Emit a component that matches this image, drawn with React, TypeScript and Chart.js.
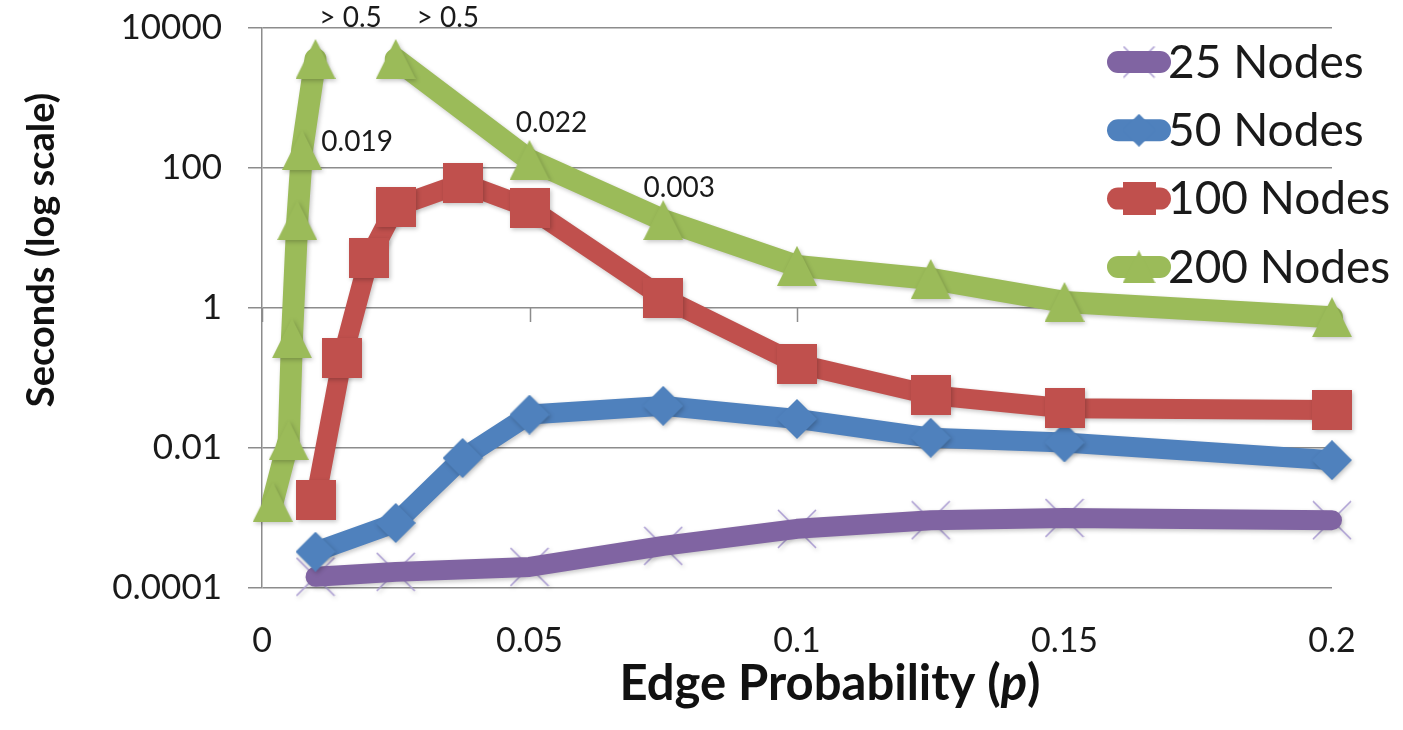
import { useEffect, useRef } from 'react';
import { Chart, registerables } from 'chart.js';

Chart.register(...registerables);

// ---------- data ----------
const X_TICKS = [0, 0.05, 0.1, 0.15, 0.2];
const X_TICK_LABELS = ['0', '0.05', '0.1', '0.15', '0.2'];
const Y_TICKS = [0.0001, 0.01, 1, 100, 10000];
const Y_TICK_LABELS = ['0.0001', '0.01', '1', '100', '10000'];

const SERIES_NAMES = ['25 Nodes', '50 Nodes', '100 Nodes', '200 Nodes'];

const P_25 = [0.01, 0.025, 0.05, 0.075, 0.1, 0.125, 0.15, 0.2];
const SEC_25 = [0.000145, 0.00017, 0.0002, 0.0004, 0.0007, 0.00093, 0.001, 0.00093];

const P_50 = [0.01, 0.025, 0.0375, 0.05, 0.075, 0.1, 0.125, 0.15, 0.2];
const SEC_50 = [0.00033, 0.00085, 0.0072, 0.03, 0.04, 0.026, 0.014, 0.012, 0.0067];

const P_100 = [0.01, 0.015, 0.02, 0.025, 0.0375, 0.05, 0.075, 0.1, 0.125, 0.15, 0.2];
const SEC_100 = [0.0018, 0.19, 5.2, 28, 61, 27, 1.4, 0.16, 0.057, 0.037, 0.035];

const P_200 = [0.002, 0.005, 0.0056, 0.0066, 0.0075, 0.01, 0.015, 0.02, 0.025, 0.05, 0.075, 0.1, 0.125, 0.15, 0.2];
const SEC_200 = [0.0017, 0.013, 0.37, 18, 181, 3600, null, null, 3600, 130, 18, 4.0, 2.6, 1.22, 0.74];

// data labels attached to points of the 200-node series
const LABEL_TEXT = ['> 0.5', '> 0.5', '0.019', '0.022', '0.003'];
const LABEL_POINT = [5, 8, 4, 9, 10];

// ---------- styles ----------
const PURPLE = '#8064A2';
const PURPLE_LIGHT = '#ab9dd2';
const BLUE = '#4F81BD';
const RED = '#C0504D';
const GREEN = '#9BBB59';
const GRID = '#8c8c8c';
const TEXT = '#1a1a1a';
const FONT = "Lato, 'Open Sans', sans-serif";
const LABEL_OFFSETS: [number, number][] = [[35, -41], [52, -41], [55, -8], [22, -37], [16, -32]];

function makeMarker(kind: string, color: string, size: number): HTMLCanvasElement {
  const c = document.createElement('canvas');
  c.width = size;
  c.height = size;
  const ctx = c.getContext('2d')!;
  ctx.fillStyle = color;
  ctx.strokeStyle = color;
  const s = size;
  ctx.beginPath();
  if (kind === 'triangle') {
    ctx.moveTo(s / 2, 0);
    ctx.lineTo(s, s);
    ctx.lineTo(0, s);
    ctx.closePath();
    ctx.fill();
  } else if (kind === 'square') {
    ctx.rect(0, 0, s, s);
    ctx.fill();
  } else if (kind === 'diamond') {
    ctx.moveTo(s / 2, 0);
    ctx.lineTo(s, s / 2);
    ctx.lineTo(s / 2, s);
    ctx.lineTo(0, s / 2);
    ctx.closePath();
    ctx.fill();
  } else {
    ctx.lineWidth = 1.6;
    ctx.moveTo(1, 1);
    ctx.lineTo(s - 1, s - 1);
    ctx.moveTo(s - 1, 1);
    ctx.lineTo(1, s - 1);
    ctx.stroke();
  }
  return c;
}

const toPoints = (xs: number[], ys: (number | null)[]) => xs.map((x, i) => ({ x, y: ys[i] }));

export default function App() {
  const ref = useRef<HTMLCanvasElement>(null);

  useEffect(() => {
    document.body.style.margin = '0';
    const canvas = ref.current!;
    const mk = {
      x: makeMarker('x', PURPLE_LIGHT, 40),
      diamond: makeMarker('diamond', BLUE, 40),
      square: makeMarker('square', RED, 40),
      triangle: makeMarker('triangle', GREEN, 40),
    };
    const mkLegend = {
      x: makeMarker('x', PURPLE_LIGHT, 33),
      diamond: makeMarker('diamond', BLUE, 33),
      square: makeMarker('square', RED, 33),
      triangle: makeMarker('triangle', GREEN, 33),
    };
    const legendItems = [
      { name: SERIES_NAMES[0], color: PURPLE, marker: mkLegend.x, under: true },
      { name: SERIES_NAMES[1], color: BLUE, marker: mkLegend.diamond, under: false },
      { name: SERIES_NAMES[2], color: RED, marker: mkLegend.square, under: false },
      { name: SERIES_NAMES[3], color: GREEN, marker: mkLegend.triangle, under: false },
    ];

    const shadowPlugin = {
      id: 'shadow',
      beforeDatasetDraw(chart: any) {
        const ctx = chart.ctx;
        ctx.save();
        ctx.shadowColor = 'rgba(0,0,0,0.22)';
        ctx.shadowBlur = 4;
        ctx.shadowOffsetX = 1.5;
        ctx.shadowOffsetY = 2;
      },
      afterDatasetDraw(chart: any) {
        chart.ctx.restore();
      },
    };

    const axisPlugin = {
      id: 'xAxisAtOne',
      beforeDatasetsDraw(chart: any) {
        const { ctx, scales } = chart;
        const y1 = scales.y.getPixelForValue(1);
        ctx.save();
        ctx.strokeStyle = GRID;
        ctx.lineWidth = 1.5;
        ctx.beginPath();
        X_TICKS.forEach((v) => {
          const x = Math.round(scales.x.getPixelForValue(v)) + 0.5;
          ctx.moveTo(x, y1);
          ctx.lineTo(x, y1 + 14);
        });
        ctx.stroke();
        ctx.restore();
      },
    };

    const labelsPlugin = {
      id: 'dataLabels',
      afterDatasetsDraw(chart: any) {
        const { ctx } = chart;
        const meta = chart.getDatasetMeta(4);
        ctx.save();
        ctx.font = `28px ${FONT}`;
        ctx.fillStyle = TEXT;
        ctx.textAlign = 'center';
        ctx.textBaseline = 'middle';
        LABEL_TEXT.forEach((t, i) => {
          const el = meta.data[LABEL_POINT[i]];
          ctx.fillText(t, el.x + LABEL_OFFSETS[i][0], el.y + LABEL_OFFSETS[i][1]);
        });
        ctx.restore();
      },
    };

    const decorPlugin = {
      id: 'decor',
      afterDraw(chart: any) {
        const { ctx, chartArea } = chart;
        ctx.save();
        // legend
        legendItems.forEach((it, i) => {
          const cy = 62 + i * 68.3;
          const x0 = 1118;
          const x1 = 1160;
          const cx = 1139;
          if (it.under) {
            ctx.drawImage(it.marker, cx - it.marker.width / 2, cy - it.marker.height / 2);
          }
          ctx.strokeStyle = it.color;
          ctx.lineWidth = 22;
          ctx.lineCap = 'round';
          ctx.beginPath();
          ctx.moveTo(x0, cy);
          ctx.lineTo(x1, cy);
          ctx.stroke();
          if (!it.under) {
            ctx.drawImage(it.marker, cx - it.marker.width / 2, cy - it.marker.height / 2);
          }
          ctx.fillStyle = TEXT;
          ctx.font = `46px ${FONT}`;
          ctx.textAlign = 'left';
          ctx.textBaseline = 'middle';
          ctx.fillText(it.name, 1168, cy + 1);
        });
        // y-axis title
        ctx.fillStyle = '#111';
        ctx.save();
        ctx.translate(chartArea.left - 220, chartArea.top + 222);
        ctx.rotate(-Math.PI / 2);
        ctx.font = `bold 38px ${FONT}`;
        ctx.textAlign = 'center';
        ctx.textBaseline = 'middle';
        ctx.fillText('Seconds (log scale)', 0, 0);
        ctx.restore();
        // x-axis title with italic p
        const parts = [
          { t: 'Edge Probability (', f: `bold 49px ${FONT}` },
          { t: 'p', f: `italic bold 49px ${FONT}` },
          { t: ')', f: `bold 49px ${FONT}` },
        ];
        let total = 0;
        parts.forEach((p) => {
          ctx.font = p.f;
          total += ctx.measureText(p.t).width;
        });
        let x = chartArea.left + 568 - total / 2;
        const baseY = chartArea.bottom + 112;
        ctx.textAlign = 'left';
        ctx.textBaseline = 'alphabetic';
        parts.forEach((p) => {
          ctx.font = p.f;
          ctx.fillText(p.t, x, baseY);
          x += ctx.measureText(p.t).width;
        });
        ctx.restore();
      },
    };

    const chart = new Chart(canvas, {
      type: 'line',
      data: {
        datasets: [
          {
            label: SERIES_NAMES[0] + ' markers',
            data: toPoints(P_25, SEC_25),
            showLine: false,
            pointStyle: mk.x,
            pointRadius: 20,
            order: 5,
            clip: false,
          },
          {
            label: SERIES_NAMES[0],
            data: toPoints(P_25, SEC_25),
            borderColor: PURPLE,
            borderWidth: 20,
            borderJoinStyle: 'round',
            borderCapStyle: 'round',
            pointRadius: 0,
            order: 4,
            clip: false,
          },
          {
            label: SERIES_NAMES[1],
            data: toPoints(P_50, SEC_50),
            borderColor: BLUE,
            borderWidth: 20,
            borderJoinStyle: 'round',
            borderCapStyle: 'round',
            pointStyle: mk.diamond,
            pointRadius: 20,
            order: 3,
            clip: false,
          },
          {
            label: SERIES_NAMES[2],
            data: toPoints(P_100, SEC_100),
            borderColor: RED,
            borderWidth: 20,
            borderJoinStyle: 'round',
            borderCapStyle: 'round',
            pointStyle: mk.square,
            pointRadius: 20,
            order: 2,
            clip: false,
          },
          {
            label: SERIES_NAMES[3],
            data: toPoints(P_200, SEC_200),
            borderColor: GREEN,
            borderWidth: 22,
            borderJoinStyle: 'round',
            borderCapStyle: 'round',
            pointStyle: mk.triangle,
            pointRadius: 20,
            spanGaps: false,
            order: 1,
            clip: false,
          },
        ] as any,
      },
      options: {
        responsive: false,
        animation: false,
        events: [],
        layout: { autoPadding: false, padding: { left: 0, top: 28, right: 71, bottom: 0 } },
        plugins: {
          legend: { display: false },
          tooltip: { enabled: false },
        },
        scales: {
          x: {
            type: 'linear',
            min: 0,
            max: 0.2,
            grid: { display: false, drawTicks: false },
            border: { display: false },
            afterBuildTicks: (s: any) => {
              s.ticks = X_TICKS.map((v) => ({ value: v }));
            },
            afterFit: (s: any) => {
              s.height = 142;
              s.paddingLeft = 0;
              s.paddingRight = 0;
            },
            ticks: {
              autoSkip: false,
              maxRotation: 0,
              padding: 33,
              color: TEXT,
              font: { family: FONT, size: 34 },
              callback: (_v: any, i: number) => X_TICK_LABELS[i],
            },
          },
          y: {
            type: 'logarithmic',
            min: 0.0001,
            max: 10000,
            grid: { color: GRID, lineWidth: 1.5, drawTicks: true, tickLength: 14 },
            border: { display: true, color: GRID, width: 1.5 },
            afterBuildTicks: (s: any) => {
              s.ticks = Y_TICKS.map((v) => ({ value: v }));
            },
            afterFit: (s: any) => {
              s.width = 262;
              s.paddingTop = 0;
              s.paddingBottom = 0;
            },
            ticks: {
              autoSkip: false,
              padding: 26,
              color: TEXT,
              font: { family: FONT, size: 35 },
              callback: (_v: any, i: number) => Y_TICK_LABELS[i],
            },
          },
        },
      } as any,
      plugins: [shadowPlugin, axisPlugin, labelsPlugin, decorPlugin],
    });
    return () => chart.destroy();
  }, []);

  return (
    <div style={{ width: 1403, height: 730, background: '#fff' }}>
      <canvas ref={ref} width={1403} height={730} style={{ display: 'block' }} />
    </div>
  );
}
